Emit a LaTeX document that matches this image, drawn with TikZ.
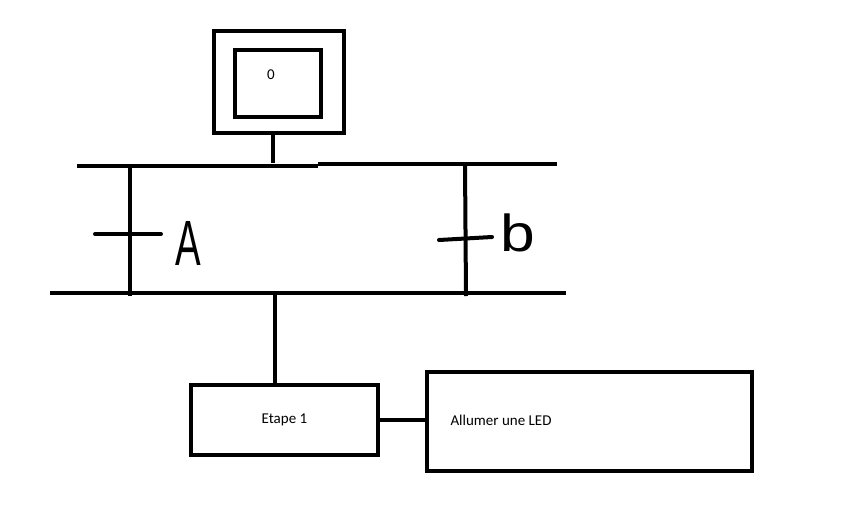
\documentclass[tikz,border=0pt]{standalone}
\usepackage{fontspec}
\setmainfont{Carlito}
\newfontfamily\handfont{Liberation Sans}
\begin{document}
\begin{tikzpicture}[x=1pt,y=-1pt,
  ln/.style={line width=4pt},
  boxs/.style={draw,line width=4pt},
  lbl/.style={font=\fontsize{15}{17}\selectfont}]
\useasboundingbox (0,0) rectangle (846,520);
% step 0
\draw[boxs] (214,31) rectangle (344,133);
\draw[boxs] (235,50) rectangle (321,117);
\node[lbl] (s0) at (271,75) {0};
\coordinate (s0b) at (273,133);
\coordinate (b1) at (273,163);
\draw[ln] (s0b) -- (b1);
% top bar
\coordinate (t1) at (77,166);
\coordinate (t2) at (318,166);
\coordinate (t3) at (318,164);
\coordinate (t4) at (557,164);
\draw[ln] (t1) -- (t2);
\draw[ln] (t3) -- (t4);
% bottom bar
\coordinate (u1) at (50,293);
\coordinate (u2) at (566,293);
\draw[ln] (u1) -- (u2);
% left branch
\coordinate (l1) at (130,166);
\coordinate (l2) at (130,296);
\draw[ln] (l1) -- (l2);
\coordinate (lt1) at (95,234);
\coordinate (lt2) at (161,234);
\draw[ln,line cap=round] (lt1) -- (lt2);
\node[font=\handfont\fontsize{64}{64}\selectfont, xscale=0.6, inner sep=0] (A) at (188,243) {A};
% right branch
\coordinate (r1) at (465,164);
\coordinate (r2) at (466,296);
\draw[ln] (r1) -- (r2);
\coordinate (rt1) at (439,240);
\coordinate (rt2) at (492,237);
\draw[ln,line cap=round] (rt1) -- (rt2);
\node[font=\handfont\fontsize{52}{52}\selectfont, xscale=1.2, inner sep=0] (B) at (518,233) {b};
% step 1
\node[boxs, minimum width=187pt, minimum height=70pt, lbl] (s1) at (284.5,420) {Etape 1};
\coordinate (s1t) at (275,293);
\draw[ln] (s1t) -- (s1.north -| s1t);
% action
\node[boxs, minimum width=325pt, minimum height=99pt] (act) at (589.5,421.5) {};
\node[lbl, anchor=west] (acttxt) at (447,420) {Allumer une LED};
\draw[ln] (s1.east) -- (act.west |- s1.east);
\end{tikzpicture}
\end{document}
